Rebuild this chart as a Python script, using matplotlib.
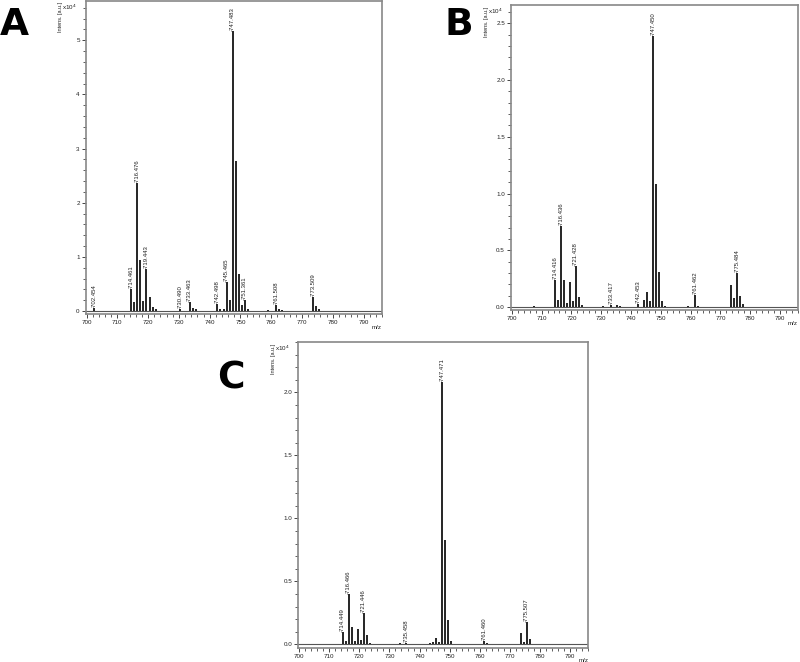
import numpy as np
import matplotlib
matplotlib.use("Agg")
import matplotlib.pyplot as plt
from matplotlib.ticker import MultipleLocator

plt.rcParams['font.family'] = ['Liberation Sans', 'DejaVu Sans']

# peak positions (m/z) and intensities (x10^4)
mz_a = [702.454, 714.461, 715.46, 716.476, 717.47, 718.47, 719.443, 720.45, 721.45, 722.45,
        730.490, 733.463, 734.47, 735.47, 742.498, 743.5, 744.5, 745.465, 746.47, 747.483,
        748.49, 749.49, 750.49, 751.361, 752.4, 759.0, 761.508, 762.5, 763.5, 773.509, 774.5, 775.5]
int_a = [0.05, 0.40, 0.17, 2.36, 0.94, 0.18, 0.77, 0.25, 0.08, 0.03,
         0.03, 0.17, 0.06, 0.03, 0.13, 0.04, 0.03, 0.54, 0.20, 5.17,
         2.77, 0.68, 0.12, 0.20, 0.03, 0.02, 0.12, 0.04, 0.02, 0.25, 0.10, 0.03]
labels_a = ["702.454", "714.461", "716.476", "719.443", "730.490", "733.463",
            "742.498", "745.465", "747.483", "751.361", "761.508", "773.509"]

mz_b = [707.3, 714.416, 715.42, 716.436, 717.43, 718.43, 719.43, 720.43, 721.428, 722.43, 723.43,
        730.5, 733.417, 735.42, 736.4, 742.453, 744.45, 745.45, 746.45, 747.450, 748.45, 749.45,
        750.45, 751.45, 759.0, 761.462, 762.46, 773.47, 774.48, 775.484, 776.49, 777.49]
int_b = [0.01, 0.24, 0.06, 0.71, 0.24, 0.04, 0.22, 0.05, 0.36, 0.09, 0.02,
         0.005, 0.02, 0.02, 0.005, 0.03, 0.06, 0.13, 0.05, 2.39, 1.08, 0.31,
         0.05, 0.01, 0.005, 0.11, 0.01, 0.19, 0.08, 0.30, 0.10, 0.03]
labels_b = ["714.416", "716.436", "721.428", "733.417", "742.453", "747.450",
            "761.462", "775.484"]

mz_c = [714.449, 715.45, 716.466, 717.46, 718.46, 719.46, 720.46, 721.446, 722.45, 723.45,
        733.45, 735.458, 742.45, 743.45, 744.46, 745.46, 746.47, 747.471, 748.47, 749.47,
        750.47, 761.460, 762.46, 773.5, 774.5, 775.507, 776.51]
int_c = [0.10, 0.03, 0.40, 0.14, 0.03, 0.12, 0.035, 0.245, 0.077, 0.01,
         0.01, 0.01, 0.005, 0.008, 0.02, 0.05, 0.02, 2.08, 0.83, 0.19,
         0.03, 0.03, 0.01, 0.087, 0.02, 0.175, 0.04]
labels_c = ["714.449", "716.466", "721.446", "735.458", "747.471", "761.460", "775.507"]

fig = plt.figure(figsize=(8, 6.62), dpi=100)


def spectrum(rect, mz, inten, labels, ylim, major, minor, fmt, letter, letter_xy):
    ax = fig.add_axes(rect)
    ax.axhline(0, color="#555555", lw=0.8, zorder=1)
    ax.vlines(mz, 0, inten, color="black", lw=1.2, zorder=2)
    for lab in labels:
        i = int(np.argmin(np.abs(np.array(mz) - float(lab))))
        ax.text(mz[i], inten[i], "-" + lab, rotation=90, ha="center", va="bottom",
                fontsize=4.3, color="#222222")
    ax.set_xlim(699.8, 796)
    ax.set_ylim(*ylim)
    ax.xaxis.set_major_locator(MultipleLocator(10))
    ax.xaxis.set_minor_locator(MultipleLocator(2))
    ax.yaxis.set_major_locator(MultipleLocator(major))
    ax.yaxis.set_minor_locator(MultipleLocator(minor))
    ax.yaxis.set_major_formatter(fmt)
    ax.tick_params(which="major", length=3, width=0.7, labelsize=4.5, pad=1.5,
                   color="#444444", labelcolor="#222222")
    ax.tick_params(which="minor", length=2, width=0.6, color="#444444")
    for s in ax.spines.values():
        s.set_color("#888888")
        s.set_linewidth(1.2)
    ax.text(-0.03, 0.995, r"x10$^4$", transform=ax.transAxes, ha="right", va="top",
            fontsize=4.5, color="#222222")
    ax.text(-0.085, 0.995, "Intens. [a.u.]", transform=ax.transAxes, rotation=90,
            ha="center", va="top", fontsize=4, color="#222222")
    ax.text(1.0, -0.035, "m/z", transform=ax.transAxes, ha="right", va="top",
            fontsize=4.5, color="#222222")
    fig.text(letter_xy[0], letter_xy[1], letter, fontsize=27, fontweight="bold",
             family="DejaVu Sans", ha="left", va="top")
    return ax


spectrum([0.1075, 0.5257, 0.37, 0.4733], mz_a, int_a, labels_a, (-0.055, 5.73),
         1, 0.2, "{x:.0f}", "A", (0.0, 0.99))
spectrum([0.639, 0.5317, 0.3585, 0.4607], mz_b, int_b, labels_b, (-0.026, 2.66),
         0.5, 0.1, "{x:.1f}", "B", (0.556, 0.99))
spectrum([0.373, 0.0216, 0.3625, 0.4618], mz_c, int_c, labels_c, (-0.027, 2.40),
         0.5, 0.1, "{x:.1f}", "C", (0.272, 0.455))

fig.savefig("out.png", dpi=100)
